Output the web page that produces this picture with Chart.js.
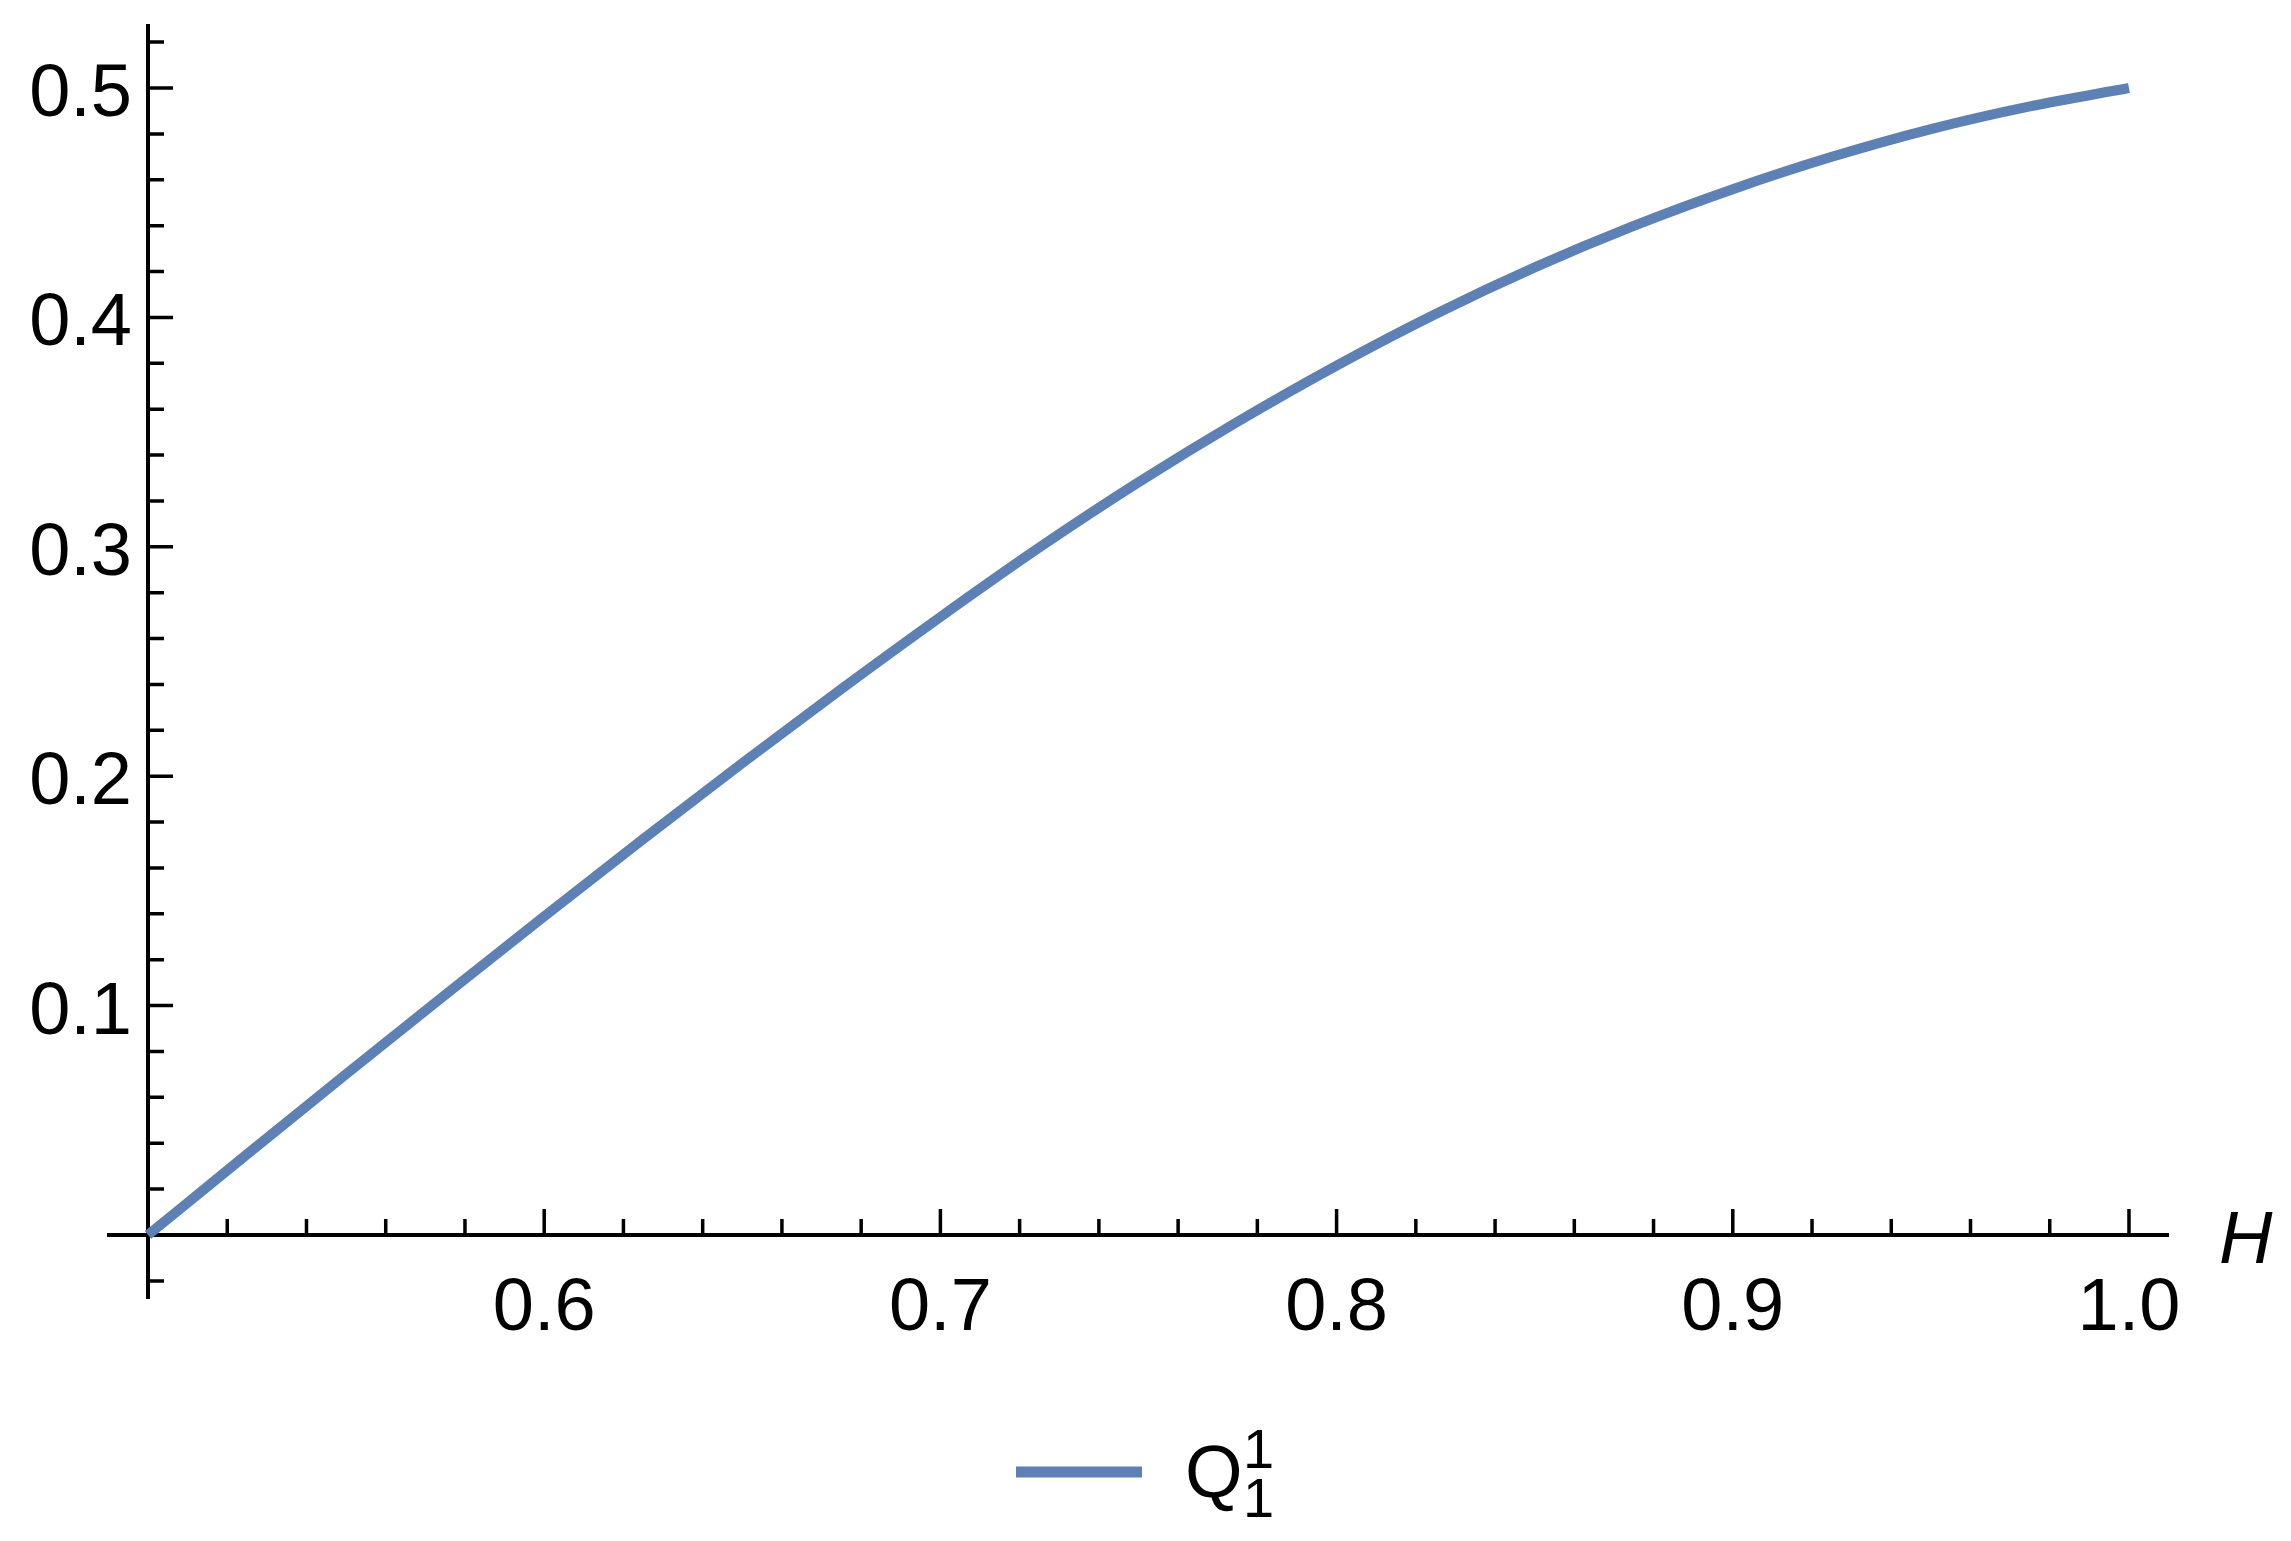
<!DOCTYPE html>
<html>
<head>
<meta charset="utf-8">
<script src="https://cdn.jsdelivr.net/npm/chart.js@4.4.1/dist/chart.umd.min.js"></script>
<style>
  html, body { margin: 0; padding: 0; background: #fff; overflow: hidden; }
  canvas { display: block; }
</style>
</head>
<body>
<canvas id="chart" width="2291" height="1541"></canvas>
<script>
// curve Q_1^1 as a function of H
const hValues = [0.5, 0.525, 0.55, 0.575, 0.6, 0.625, 0.65, 0.675, 0.7, 0.725, 0.75,
                 0.775, 0.8, 0.825, 0.85, 0.875, 0.9, 0.925, 0.95, 0.975, 1.0];
const qValues = [0, 0.0352, 0.0701, 0.1047, 0.1389, 0.1726, 0.2057, 0.2380, 0.2694, 0.2997, 0.3281,
                 0.3545, 0.3790, 0.4015, 0.4218, 0.4399, 0.4559, 0.4700, 0.4821, 0.4920, 0.500];

const xTickLabels = ['0.6', '0.7', '0.8', '0.9', '1.0'];
const yTickLabels = ['0.1', '0.2', '0.3', '0.4', '0.5'];
const xMinorStep = 0.02;
const yMinorStep = 0.02;

const lineColor = '#5e81b5';
const FONT = '"Liberation Sans", Arial, sans-serif';

// axes in Mathematica style: crossing at (0.5, 0), ticks pointing inward
const axesPlugin = {
    id: 'axes',
    beforeDatasetsDraw(chart) {
        const ctx = chart.ctx;
        const xs = chart.scales.x;
        const ys = chart.scales.y;
        const area = chart.chartArea;
        const x0 = xs.getPixelForValue(0.5);
        const y0 = ys.getPixelForValue(0);
        ctx.save();
        ctx.strokeStyle = '#000';
        ctx.lineWidth = 4;
        ctx.beginPath();
        ctx.moveTo(area.left, y0);
        ctx.lineTo(area.right, y0);
        ctx.moveTo(x0, area.top);
        ctx.lineTo(x0, area.bottom);
        ctx.stroke();

        ctx.lineWidth = 3.5;
        ctx.beginPath();
        // x ticks
        for (let i = 1; 0.5 + i * xMinorStep <= xs.max + 1e-9; i++) {
            const v = 0.5 + i * xMinorStep;
            const major = i % 5 === 0;
            const px = xs.getPixelForValue(v);
            ctx.moveTo(px, y0);
            ctx.lineTo(px, y0 - (major ? 26 : 16));
        }
        // y ticks
        for (let i = Math.ceil(ys.min / yMinorStep); i * yMinorStep <= ys.max + 1e-9; i++) {
            if (i === 0) continue;
            const v = i * yMinorStep;
            const major = i % 5 === 0;
            const py = ys.getPixelForValue(v);
            ctx.moveTo(x0, py);
            ctx.lineTo(x0 + (major ? 25 : 16), py);
        }
        ctx.stroke();

        ctx.fillStyle = '#000';
        ctx.font = '74px ' + FONT;
        ctx.textBaseline = 'alphabetic';
        ctx.textAlign = 'center';
        xTickLabels.forEach(t => {
            ctx.fillText(t, xs.getPixelForValue(parseFloat(t)), y0 + 95);
        });
        ctx.textAlign = 'right';
        yTickLabels.forEach(t => {
            ctx.fillText(t, x0 - 16, ys.getPixelForValue(parseFloat(t)) + 28);
        });
        // axis label
        ctx.textAlign = 'left';
        ctx.font = 'italic 74px ' + FONT;
        ctx.fillText('H', area.right + 50, y0 + 28);
        ctx.restore();
    },
    afterDraw(chart) {
        // legend with sub/superscript
        const ctx = chart.ctx;
        ctx.save();
        ctx.strokeStyle = lineColor;
        ctx.lineWidth = 11;
        ctx.beginPath();
        ctx.moveTo(1016, 1472);
        ctx.lineTo(1142, 1472);
        ctx.stroke();
        ctx.fillStyle = '#000';
        ctx.textBaseline = 'alphabetic';
        ctx.textAlign = 'left';
        ctx.font = '74px ' + FONT;
        ctx.fillText('Q', 1185, 1497);
        ctx.font = '56px ' + FONT;
        ctx.fillText('1', 1243, 1468);
        ctx.fillText('1', 1243, 1517);
        ctx.restore();
    }
};

new Chart(document.getElementById('chart'), {
    type: 'line',
    data: {
        labels: hValues,
        datasets: [{
            label: 'Q11',
            data: hValues.map((h, i) => ({ x: h, y: qValues[i] })),
            borderColor: lineColor,
            borderWidth: 10,
            pointRadius: 0,
            cubicInterpolationMode: 'monotone',
            fill: false,
            clip: false
        }]
    },
    options: {
        responsive: false,
        animation: false,
        devicePixelRatio: 1,
        layout: { padding: { left: 107, right: 122, top: 24, bottom: 242 } },
        plugins: { legend: { display: false }, tooltip: { enabled: false } },
        scales: {
            x: { type: 'linear', min: 0.48965, max: 1.0101, display: false },
            y: { type: 'linear', min: -0.0279, max: 0.5279, display: false }
        }
    },
    plugins: [axesPlugin]
});
</script>
</body>
</html>
